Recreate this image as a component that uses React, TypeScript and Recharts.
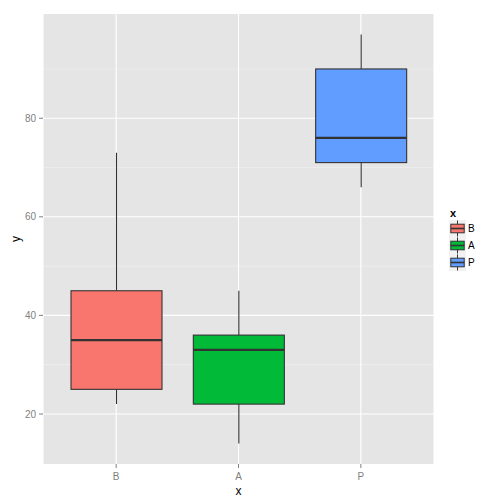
import React from "react";
import {
  ComposedChart,
  Bar,
  XAxis,
  YAxis,
  CartesianGrid,
} from "recharts";

const categories = ["B", "A", "P"];
const lowerWhisker = [22, 14, 66];
const lowerQuartile = [25, 22, 71];
const medians = [35, 33, 76];
const upperQuartile = [45, 36, 90];
const upperWhisker = [73, 45, 97];
const fills = ["#F8766D", "#00BA38", "#619CFF"];
const yTicks = [20, 40, 60, 80];
const yMinorTicks = [30, 50, 70, 90];

const data = categories.map((x, i) => ({
  x,
  min: lowerWhisker[i],
  q1: lowerQuartile[i],
  median: medians[i],
  q3: upperQuartile[i],
  max: upperWhisker[i],
  fill: fills[i],
}));

const FONT = "'Liberation Sans', Arial, sans-serif";
const LINE = "#333333";

function BoxShape(props: any) {
  const { x, y, width, height, payload } = props;
  const top = Math.min(y, y + height);
  const bottom = Math.max(y, y + height);
  const { min, max, q1, median, q3, fill } = payload;
  // map a value into the pixel span the bar got from the y scale
  const py = (v: number) => bottom - ((v - min) / (max - min)) * (bottom - top);
  const cx = x + width / 2;
  return (
    <g>
      <line x1={cx} x2={cx} y1={py(max)} y2={py(q3)} stroke={LINE} strokeWidth={1.1} />
      <line x1={cx} x2={cx} y1={py(q1)} y2={py(min)} stroke={LINE} strokeWidth={1.1} />
      <rect
        x={x}
        y={py(q3)}
        width={width}
        height={py(q1) - py(q3)}
        fill={fill}
        stroke={LINE}
        strokeWidth={1.1}
      />
      <line x1={x} x2={x + width} y1={py(median)} y2={py(median)} stroke={LINE} strokeWidth={2.2} />
    </g>
  );
}

function LegendBox() {
  return (
    <div style={{ position: "absolute", left: 449, top: 207, fontFamily: FONT }}>
      <div style={{ fontSize: 11, fontWeight: "bold", lineHeight: "13px", marginLeft: 1 }}>x</div>
      {categories.map((c, i) => (
        <div key={c} style={{ display: "flex", alignItems: "center", height: 17 }}>
          <svg width={17} height={17} style={{ display: "block" }}>
            <rect x={0} y={0} width={17} height={17} fill="#F2F2F2" />
            <line x1={8.5} x2={8.5} y1={0.5} y2={16.5} stroke={LINE} strokeWidth={1} />
            <rect x={1.8} y={4.2} width={13.4} height={8.6} fill={fills[i]} stroke={LINE} strokeWidth={1} />
            <line x1={1.8} x2={15.2} y1={8.5} y2={8.5} stroke={LINE} strokeWidth={1.6} />
          </svg>
          <span style={{ fontSize: 10, marginLeft: 2, color: "#000" }}>{c}</span>
        </div>
      ))}
    </div>
  );
}

export default function App() {
  return (
    <div style={{ position: "absolute", left: 0, top: 0, width: 504, height: 504, background: "#fff" }}>
      <ComposedChart
        width={504}
        height={504}
        data={data}
        margin={{ top: 14, right: 70, bottom: 0, left: 0 }}
      >
        <CartesianGrid
          fill="#E5E5E5"
          stroke="#F2F2F2"
          strokeWidth={0.6}
          vertical={false}
          horizontalValues={yMinorTicks}
        />
        <CartesianGrid stroke="#FFFFFF" strokeWidth={1.1} horizontalValues={yTicks} />
        <XAxis
          dataKey="x"
          type="category"
          padding={{ left: 12, right: 12 }}
          height={40}
          axisLine={false}
          tickLine={{ stroke: "#7F7F7F" }}
          tickSize={4}
          tickMargin={5}
          tick={{ fill: "#7F7F7F", fontSize: 10, fontFamily: FONT }}
          label={{ value: "x", position: "insideBottom", offset: 9, fill: "#000", fontSize: 12, fontFamily: FONT }}
        />
        <YAxis
          type="number"
          domain={[9.85, 101.15]}
          ticks={yTicks}
          allowDataOverflow
          width={43}
          axisLine={false}
          tickLine={{ stroke: "#7F7F7F" }}
          tickSize={4}
          tickMargin={3}
          tick={{ fill: "#7F7F7F", fontSize: 10, fontFamily: FONT }}
          label={{ value: "y", angle: -90, position: "insideLeft", offset: 16, dy: 3, fill: "#000", fontSize: 12, fontFamily: FONT }}
        />
        <Bar
          dataKey={(d: any) => [d.min, d.max]}
          barSize={91}
          shape={<BoxShape />}
          isAnimationActive={false}
        />
      </ComposedChart>
      <LegendBox />
    </div>
  );
}
